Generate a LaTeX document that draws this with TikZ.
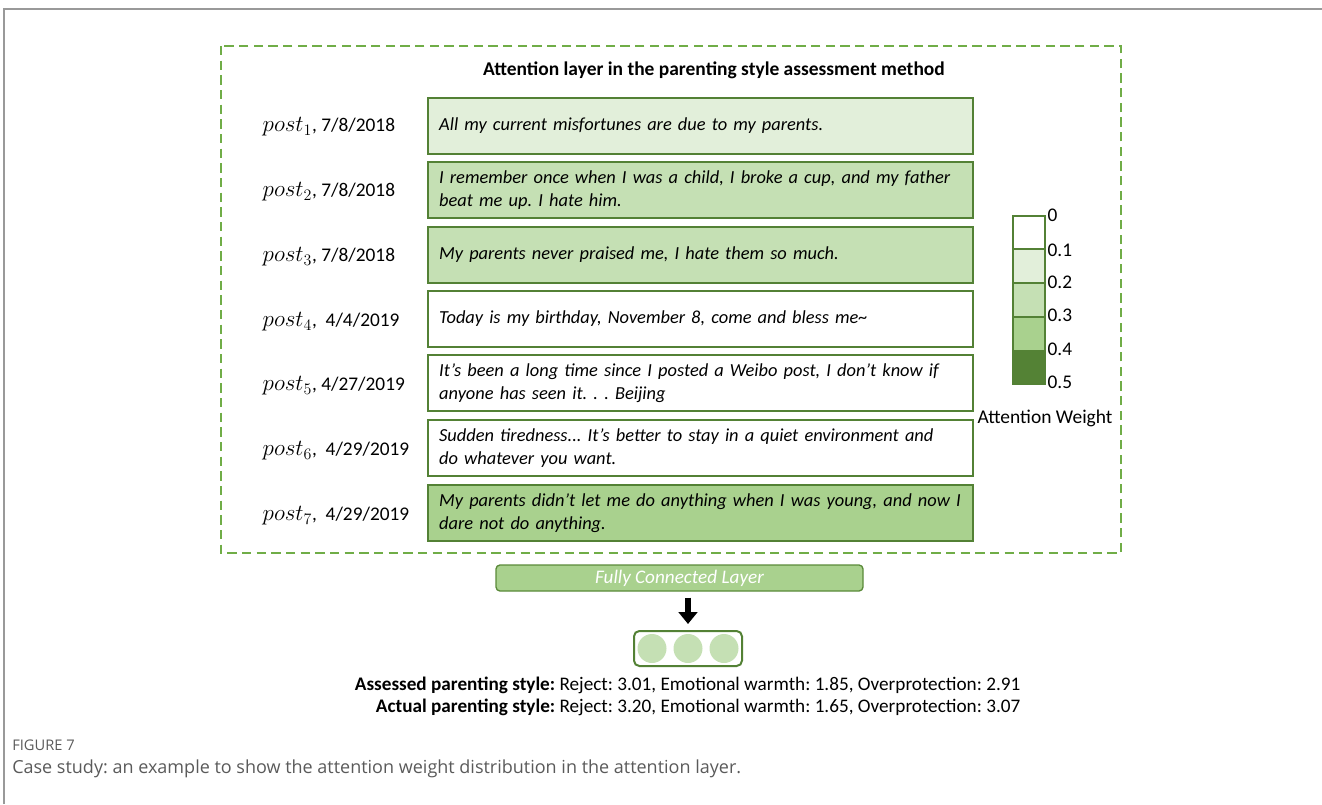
\documentclass[tikz,border=0pt]{standalone}
\usepackage{fontspec}
\setmainfont{Carlito}
\newfontfamily\capfont{Open Sans}
\usetikzlibrary{arrows.meta}
\definecolor{wA}{HTML}{E2EFDA}
\definecolor{wB}{HTML}{C5E0B4}
\definecolor{wC}{HTML}{A9D18E}
\definecolor{wD}{HTML}{548235}
\definecolor{bord}{HTML}{538135}
\definecolor{dgreen}{HTML}{70AD47}
\definecolor{capgray}{HTML}{5A5A5A}
\newcommand\ap{\symbol{39}}
\newcommand\pst[1]{{\fontsize{17.5}{18}\selectfont$post_{#1}$}}
\frenchspacing
\tikzset{
  post/.style={draw=bord, line width=1.5pt, minimum width=545*0.75pt, minimum height=56*0.75pt, inner xsep=8pt, text width=392pt, align=left, font=\fontsize{13.8}{17}\selectfont\itshape},
  plabel/.style={anchor=west, font=\fontsize{14.5}{16}\selectfont},
  tick/.style={anchor=west, font=\fontsize{14.5}{16}\selectfont, inner sep=1pt},
  seg/.style={draw=bord, line width=1.2pt},
}
\begin{document}
\begin{tikzpicture}[x=0.75pt,y=-0.75pt]
\useasboundingbox (0,0) rectangle (1322,804);
% page border
\draw[color=gray!80, line width=1.5pt] (4,804) -- (4,9) -- (1322,9);
% dashed frame
\draw[dgreen, line width=1.5pt, dash pattern=on 7pt off 4pt] (221,46) rectangle (1121,553);
\node[font=\fontsize{14.6}{16}\selectfont\bfseries] (title) at (714,70) {Attention layer in the parenting style assessment method};
% posts
\node[post, fill=wA, anchor=north west] (p1) at (427,97) {All my current misfortunes are due to my parents.};
\node[post, fill=wB, anchor=north west] (p2) at (427,161) {I remember once when I was a child, I broke a cup, and my father\\beat me up. I hate him.};
\node[post, fill=wB, anchor=north west] (p3) at (427,226) {My parents never praised me, I hate them so much.};
\node[post, fill=white, anchor=north west] (p4) at (427,290) {Today is my birthday, November 8, come and bless me\textasciitilde};
\node[post, fill=white, anchor=north west] (p5) at (427,354) {It\ap s been a long time since I posted a Weibo post, I don\ap t know if\\anyone has seen it. . . Beijing};
\node[post, fill=white, anchor=north west] (p6) at (427,419) {Sudden tiredness... It\ap s better to stay in a quiet environment and\\do whatever you want.};
\node[post, fill=wC, anchor=north west] (p7) at (427,484) {My parents didn\ap t let me do anything when I was young, and now I\\dare not do anything.};
% labels
\node[plabel] (l1) at (258,127) {\pst1, 7/8/2018};
\node[plabel] (l2) at (258,192) {\pst2, 7/8/2018};
\node[plabel] (l3) at (258,257) {\pst3, 7/8/2018};
\node[plabel] (l4) at (258,322) {\pst4,\ \ 4/4/2019};
\node[plabel] (l5) at (258,386) {\pst5, 4/27/2019};
\node[plabel] (l6) at (258,451) {\pst6,\ \ 4/29/2019};
\node[plabel] (l7) at (258,516) {\pst7,\ \ 4/29/2019};
% legend
\fill[white] (1013,216) rectangle (1045,249);
\fill[wA] (1013,249) rectangle (1045,283);
\fill[wB] (1013,283) rectangle (1045,317);
\fill[wC] (1013,317) rectangle (1045,350);
\fill[wD] (1013,350) rectangle (1045,384);
\draw[seg] (1013,216) rectangle (1045,384);
\draw[seg] (1013,249) -- (1045,249);
\draw[seg] (1013,283) -- (1045,283);
\draw[seg] (1013,317) -- (1045,317);
\node[tick] (t0) at (1046,215) {0};
\node[tick] (t1) at (1046,250) {0.1};
\node[tick] (t2) at (1046,282) {0.2};
\node[tick] (t3) at (1046,315) {0.3};
\node[tick] (t4) at (1046,349) {0.4};
\node[tick] (t5) at (1046,382) {0.5};
\node[font=\fontsize{14.6}{16}\selectfont, fill=white, inner sep=1pt] (aw) at (1045,418) {Attention Weight};
% fully connected
\node[draw=dgreen!80!black, fill=wC, rounded corners=3pt, line width=1pt, minimum width=367*0.75pt, minimum height=26*0.75pt, inner sep=0pt, text=white, font=\fontsize{14.4}{16}\selectfont\itshape] (fc) at (679.5,578) {Fully Connected Layer};
\node[draw=bord, line width=1.5pt, rounded corners=4pt, minimum width=108*0.75pt, minimum height=35*0.75pt, inner sep=0pt] (out) at (688,648.5) {};
\foreach \cx/\nm in {652/c1,688/c2,724/c3} \node[circle, fill=wB, minimum size=29*0.75pt, inner sep=0pt] (\nm) at (\cx,648.5) {};
\draw[-{Triangle[length=9pt,width=14pt]}, line width=4.5pt] (fc.south -| c2) ++(0,6) coordinate (as) (as) -- (c2.north |- 0,624) coordinate (ae);
% results
\node[anchor=east, font=\fontsize{14.4}{16}\selectfont] (r1) at (1025,685) {\textbf{Assessed parenting style:} Reject: 3.01, Emotional warmth: 1.85, Overprotection: 2.91};
\node[anchor=east, font=\fontsize{14.4}{16}\selectfont] (r2) at (1025,707) {\textbf{Actual parenting style:} Reject: 3.20, Emotional warmth: 1.65, Overprotection: 3.07};
% caption
\node[anchor=west, text=capgray, font=\capfont\fontsize{11}{13}\selectfont, inner sep=0pt] (fig) at (12,745) {FIGURE 7};
\node[anchor=west, text=capgray, font=\capfont\fontsize{13.5}{16}\selectfont, inner sep=0pt] (cap) at (12,769) {Case study: an example to show the attention weight distribution in the attention layer.};
\end{tikzpicture}
\end{document}
